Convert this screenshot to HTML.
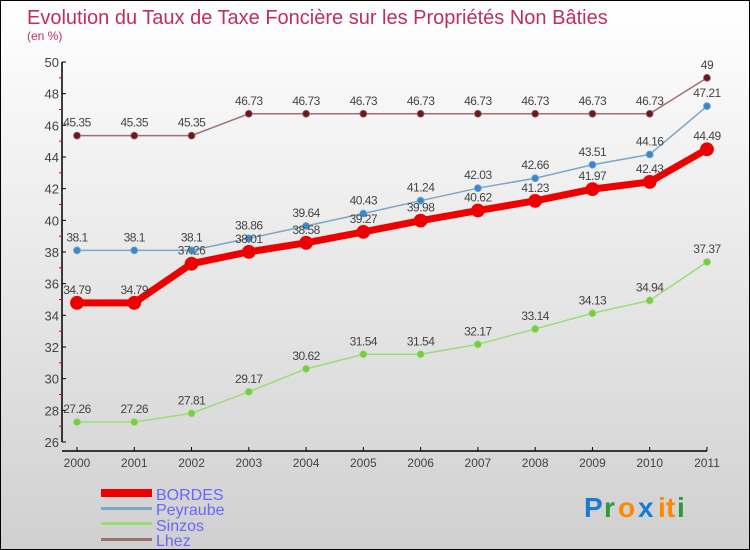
<!DOCTYPE html>
<html><head><meta charset="utf-8"><style>
body{margin:0}
#c{position:relative;width:748px;height:548px;border:1px solid #000;background:linear-gradient(#ffffff,#d0d0d0);font-family:"Liberation Sans",sans-serif;overflow:hidden}
</style></head><body>
<div id="c">
<svg id="s" width="748" height="548" xmlns="http://www.w3.org/2000/svg">
<text x="26" y="23" font-size="20" fill="#c0305a">Evolution du Taux de Taxe Foncière sur les Propriétés Non Bâties</text>
<text x="26" y="39" font-size="12" fill="#c0305a">(en %)</text>
<g id="ax"></g><g id="ser"></g>
<g>
<rect x="100" y="488" width="51" height="8" fill="#ee0000"/>
<rect x="100" y="506" width="51" height="3" fill="#7ba7c9"/>
<rect x="100" y="521" width="51" height="3" fill="#99dd77"/>
<rect x="100" y="537" width="51" height="3" fill="#997070"/>
<text x="155" y="499" font-size="16" fill="#6666ff">BORDES</text>
<text x="155" y="514" font-size="16" fill="#6666ff">Peyraube</text>
<text x="155" y="530" font-size="16" fill="#6666ff">Sinzos</text>
<text x="155" y="545" font-size="16" fill="#6666ff">Lhez</text>
</g>
<g font-size="28" font-weight="bold">
<text x="583" y="516" fill="#1a7ad4">P</text><text x="603" y="516" fill="#2a9a3a">r</text><text x="617" y="516" fill="#ff8800">o</text><text x="637" y="516" fill="#1a7ad4">x</text><text x="657" y="516" fill="#ff8800">i</text><text x="665" y="516" fill="#ff8800">t</text><text x="676" y="516" fill="#2a9a3a">i</text>
</g>
</svg>
</div>
<script>
const years=["2000","2001","2002","2003","2004","2005","2006","2007","2008","2009","2010","2011"];
const yTicks=[26,28,30,32,34,36,38,40,42,44,46,48,50];
const bordes=[34.79,34.79,37.26,38.01,38.58,39.27,39.98,40.62,41.23,41.97,42.43,44.49];
const peyraube=[38.1,38.1,38.1,38.86,39.64,40.43,41.24,42.03,42.66,43.51,44.16,47.21];
const sinzos=[27.26,27.26,27.81,29.17,30.62,31.54,31.54,32.17,33.14,34.13,34.94,37.37];
const lhez=[45.35,45.35,45.35,46.73,46.73,46.73,46.73,46.73,46.73,46.73,46.73,49];
const NS="http://www.w3.org/2000/svg";
const X=i=>76+i*57.27, Y=v=>61+(50-v)*(380/24);
function mk(t,a,p){const e=document.createElementNS(NS,t);for(const k in a)e.setAttribute(k,a[k]);p.appendChild(e);return e;}
const ax=document.getElementById('ax');
let e=mk('line',{x1:61,y1:61,x2:61,y2:441,stroke:'#000','stroke-width':1.5},ax);

e=mk('line',{x1:61,y1:450,x2:706,y2:450,stroke:'#000','stroke-width':1.5},ax);

yTicks.forEach((v,i)=>{
 mk('line',{x1:61,y1:Y(v),x2:65,y2:Y(v),stroke:'#000'},ax);
 if(i<yTicks.length-1)mk('line',{x1:58,y1:Y(v+1),x2:61,y2:Y(v+1),stroke:'#e00'},ax);
 const t=mk('text',{x:58,y:Y(v)+5,'font-size':13,fill:'#444','text-anchor':'end'},ax);t.textContent=v;
 
});
years.forEach((y,i)=>{
 mk('line',{x1:X(i),y1:446,x2:X(i),y2:450,stroke:'#000'},ax);
 const t=mk('text',{x:X(i),y:466,'font-size':12,fill:'#444','text-anchor':'middle'},ax);t.textContent=y;
 
});
const ser=document.getElementById('ser');
function draw(d,name,col,dot,w,r){
 const g=mk('g',{},ser);
 mk('polyline',{points:d.map((v,i)=>X(i)+','+Y(v)).join(' '),fill:'none',stroke:col,'stroke-width':w},g);
 d.forEach((v,i)=>{
  const c=mk('circle',{cx:X(i),cy:Y(v),r:r,fill:dot,stroke:col,'stroke-width':0.8},g);
  
  const t=mk('text',{x:X(i),y:Y(v)-9,'font-size':12,fill:'#444','text-anchor':'middle','letter-spacing':'-0.5'},g);
  t.textContent=v;
 });
}
draw(lhez,'lhez','#a07070','#6b1a1a',1.5,3.5);
draw(peyraube,'peyraube','#7ba7c9','#3a88cc',1.5,3.5);
draw(sinzos,'sinzos','#99dd77','#77cc44',1.5,3.5);
draw(bordes,'bordes','#ee0000','#ee0000',7,6.5);
</script>
</body></html>
